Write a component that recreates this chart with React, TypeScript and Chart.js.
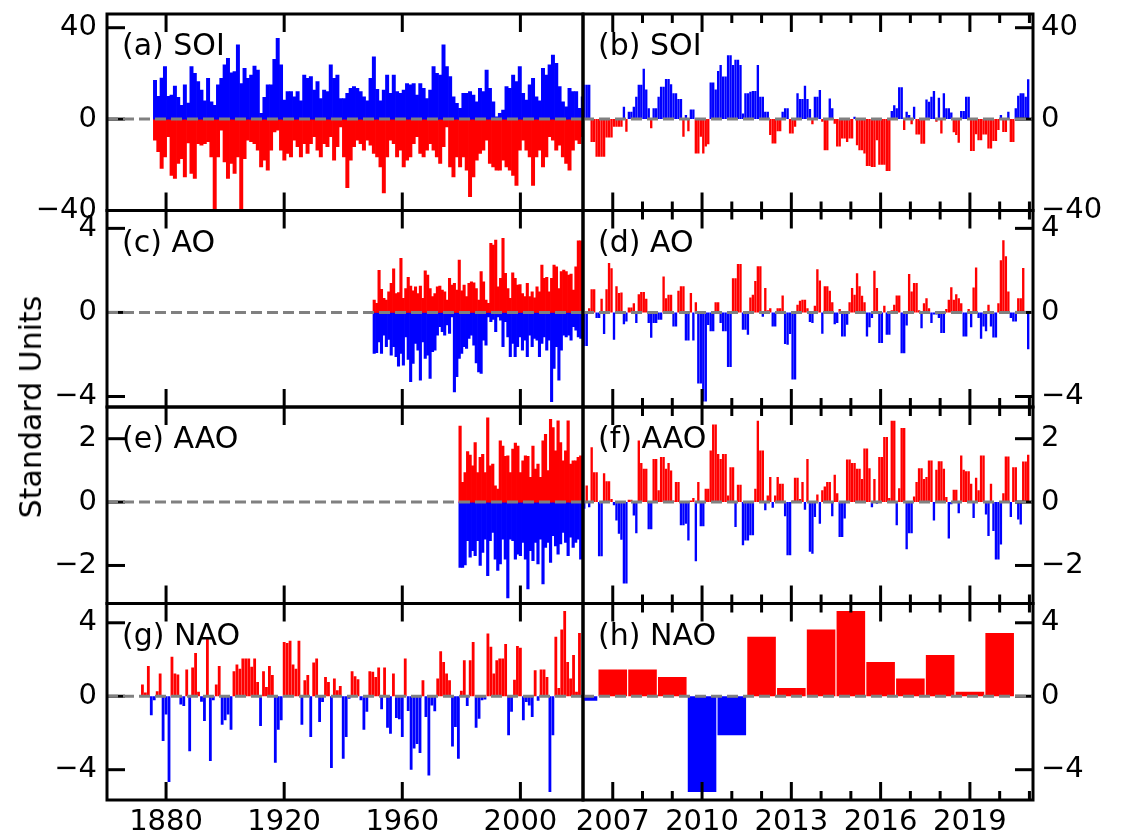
import React, { useEffect, useRef } from "react";
import { Chart, registerables } from "chart.js";

Chart.register(...registerables);

// ---------------- data ----------------
const MONTHLY_START_YEAR = 2006; // Jan 2006 .. Dec 2020

// (b) SOI, monthly
const SOI_MONTHLY = [
  15, 15, 15, -10, -10, -16.5, -16.5, -16.5, -16.5, -8, -8, -8,
  -3.4, -3.4, -3.4, -3.4, 5.4, -5.5, 3.2, 3.2, 5.4, 9.8, 15, 15,
  22, 13, 4.7, -4, 4.7, 4.7, 9.8, 14.2, 14.2, 17.5, 17.5, 15.2,
  11.3, 11.3, 8.8, 8.8, -7.7, 1.8, -5.3, 4.2, 4.2, -15, -15, -7.7,
  -15, -12, -11, 16, 16, 13, 21, 23.7, 18.6, 18.6, 28, 28,
  23.7, 26, 26, 23.7, 2.5, 11.3, 11.3, 12, 12.3, 12.3, 23.7, 9.8,
  9.8, 3.2, 3.2, -7, -10.7, -10.7, -5.3, -5.3, 3.2, 4.7, 4.7, -6.3,
  -6.3, -3.4, 11.3, 8.8, 8.8, 14.6, 8.8, 4.4, -2.3, 9.8, 9.8, 12.7,
  -1.2, -13.6, -13.6, 9.0, 4.7, -2, -12, -12, -8.5, -8.5, -10, -8.5,
  -8.5, 1, -11.4, -13.6, -13.6, -15, -20.5, -20.5, -21, -21, -9.2, -20,
  -20, -20, -22.7, -22.7, 3.5, 6.1, 4.7, 13.9, 13.9, -4.8, 3.2, 1.8,
  -2.3, 5.4, -6.7, -6.7, -10.8, -10.8, 8.6, 7.6, 9.8, 12.3, -1.2, 9.4,
  -6.3, 11.3, 4.7, 4.7, 2.9, -5.8, -7, -10.4, 3.5, 3.5, 9.8, 9.8,
  -14, -14, -6.6, -9.2, -9.2, -6.7, -6.7, -12.9, -12.9, -9.6, -9.6, -4.8,
  1.8, -5.6, -5.6, 3.2, -10, -10, 4.7, 10.2, 11.3, 11.3, 9.8, 17.4,
];

// (d) AO, monthly
const AO_MONTHLY = [
  -1.6, -1.6, 0.2, 1.1, 1.1, -0.27, -0.27, 0.65, -1.03, 1.1, 2.35, 2.1,
  -1.3, 1.24, 0.92, 0.95, -0.56, -0.43, 0.24, 0.24, 0.44, -0.5, 0.87, 0.97,
  0.97, 0.65, -0.5, -1.2, -0.5, -0.5, -0.35, -0.35, 1.71, 0.68, 0.84, 0.84,
  -0.67, -0.67, 1.03, 1.24, 1.24, -1.33, -1.33, 0.92, -1.33, 0.49, -3.38, -3.38,
  -4.24, -4.24, -0.6, -0.9, -0.9, 0.48, 0.48, -0.5, -0.9, -0.9, -2.6, -2.6,
  1.63, 1.63, 2.3, 2.3, -0.83, -0.83, -1.06, 0.71, 0.84, 1.5, 2.2, 2.2,
  -0.2, 1.16, 0.1, 0.2, -0.67, -0.67, 0.2, 0.2, 0.8, -1.5, -1.54, -1.03,
  -3.19, -3.19, 0.37, 0.56, 0.6, 0.6, 0.2, -0.46, -0.5, 0.32, 2.06, 1.52,
  -1.02, 1.24, 1.24, 1.03, 0.49, -0.56, -0.5, 0.16, -1.14, -1.14, -0.59, 0.48,
  1.16, 0.84, 1.87, 1.24, 0.79, 0.48, -1.14, -0.71, -0.27, 1.98, 1.16, -1.46,
  -1.46, 0.32, -1.06, -1.06, 0.1, 0.37, 0.8, 0.8, -1.94, -1.94, -0.62, 1.83,
  1.0, 1.4, 1.4, 0.1, -0.75, 0.44, 0.68, 0.2, -0.5, -0.1, -0.1, -0.27,
  -0.98, -0.98, 0.16, 0.6, 1.2, 0.6, 0.87, 0.68, 0.44, -1.14, -1.14, 0.16,
  -0.71, 1.19, 2.14, -0.27, -1.25, -0.67, -0.9, 0.37, -0.67, -1.19, -1.19, 0.44,
  2.48, 3.43, 2.67, 1.0, -0.27, -0.43, -0.43, 0.68, 0.68, 2.11, -0.08, -1.75,
];

// (f) AAO, monthly
const AAO_MONTHLY = [
  -0.21, 0.52, -0.16, 1.73, 0.94, 0.94, -1.71, -1.71, 0.91, 0.66, 0.66, 0.1,
  -0.1, -0.58, -1.0, -1.19, -2.57, -2.57, 0.07, 0.07, -0.42, -0.98, 1.94, 1.23,
  1.05, 1.05, -0.86, -0.86, 1.36, 1.36, 0.37, 1.42, 1.42, 1.05, 1.23, 1.0,
  0.05, 0.63, 0.63, -0.73, -0.73, -0.68, -1.21, 0.05, 0.13, -1.87, 0.63, -0.76,
  -0.76, 0.42, 0.42, 1.63, 2.45, 2.45, 1.52, 1.36, 1.52, 1.52, 0.21, 1.1,
  1.1, -0.79, 0.55, 0.55, -1.36, -1.21, -1.21, -1.05, -1.05, 0.42, 2.57, 1.63,
  1.63, -0.26, 0.21, 0.79, -0.18, 0.21, 0.79, 0.58, 0.58, -0.45, -1.68, -1.68,
  0.05, 0.77, 0.77, 0.1, 0.63, -0.24, 1.36, -1.57, -1.63, -0.47, 0.24, -0.68,
  0.37, 0.49, 0.63, 0.63, -0.45, 0.86, 0.28, -1.1, -1.1, -0.52, 1.34, 1.34,
  1.23, 1.23, 1.05, 1.05, 0.73, 1.69, 1.69, 1.07, -0.16, 0.73, -0.05, 1.42,
  1.42, 2.05, 2.05, 0.13, 2.57, 2.57, -0.73, 0.44, 2.34, 2.34, -1.49, -0.98,
  -0.98, 0.18, 0.63, 1.07, 1.07, 0.73, 0.79, 1.31, 1.31, -0.58, 1.02, 1.29,
  1.29, 1.05, 0.16, -1.15, -0.07, 0.39, 0.39, -0.35, 1.47, 1.02, 0.97, 0.97,
  0.58, -0.5, 0.77, 0.37, 1.47, 1.47, -0.39, -1.07, 0.58, -0.91, -1.81, -1.81,
  -1.34, 0.28, 1.44, 1.44, -0.47, 1.1, 1.1, -0.55, -0.71, 1.28, 1.28, 1.49,
];

// (g)/(h) NAO, one value per winter, 1872 .. 2020
const NAO_FIRST_YEAR = 1872;
const NAO_ANNUAL = [
  0.64, 0.2, 1.64, -1.04, -0.22, 0.27, 1.24, -2.44, -1.0, -4.67,
  2.15, 1.24, 1.18, -0.45, -0.53, 1.45, -3.0, 1.56, 2.36, 0.24,
  -0.3, -1.35, 3.15, -3.53, -0.22, 0.64, 1.64, -1.55, -1.31, -1.0,
  -1.82, 1.36, 1.73, 1.5, 2.05, 2.05, 2.05, 1.6, 2.05, 0.78,
  -1.62, 1.36, 0.5, 1.64, 1.15, -3.62, -1.82, -1.31, 2.96, 2.9,
  3.02, 1.73, 1.5, 3.02, -1.55, 0.87, 1.15, -2.22, 1.84, 2.05,
  -1.4, -0.31, 1.05, 0.78, -3.91, 0.96, 0.33, 0.56, -3.4, -2.22,
  -0.13, 1.36, 1.09, 0.93, -0.22, -1.82, -0.85, 1.36, 1.33, 1.05,
  1.56, -0.71, 1.56, -1.71, -2.04, 1.24, -1.18, -1.25, -2.22, 2.05,
  -0.8, -4.0, -2.85, -2.6, -3.09, 0.87, -1.13, -4.31, -0.5, -0.82,
  0.96, 2.45, 1.87, 1.24, 0.87, -2.73, -1.67, -3.4, 0.3, 1.96,
  -0.53, 1.96, 2.96, -1.71, -1.22, -0.22, -0.18, 3.42, 2.69, 1.24,
  1.96, 2.05, 2.05, 2.84, -2.13, -0.85, 0.9, 2.73, 2.64, -1.31,
  -0.31, -0.5, -1.13, 1.42, -0.25, 1.45, 1.45, 1.05, -5.22, -2.13,
  3.24, 0.45, 3.64, 4.64, 1.87, 0.96, 2.24, 0.24, 3.45,
];

// (a) SOI, long record: strongest positive / negative month in each time bin
const SOI_LONG_START = 1875.7;
const SOI_LONG_BIN = 1.123;
const SOI_LONG_POS = [
  17, 10, 18, 23, 10, 10.5, 14.5, 9.5, 6, 15,
  7, 23, 20, 16.4, 12.7, 8, 17.8, 7.6, 6, 15,
  17.8, 23.7, 26.6, 20.3, 20.8, 32.5, 15.6, 22.2, 17.8, 19.3,
  23.2, 21.5, 2.5, 9.5, 15, 15, 26.2, 35.4, 23.7, 8.3,
  12, 12, 9.8, 12, 8, 19.3, 17.8, 18.6, 12.7, 16.4,
  9, 12.7, 12, 23.7, 17.8, 19.3, 9, 9, 11.3, 13.5,
  14.2, 13.5, 12, 9.8, 8, 17.8, 27.3, 13, 8, 12.7,
  19.3, 11.3, 19.3, 12, 11.3, 12.7, 15.6, 15, 15.6, 10.5,
  15.6, 13.5, 9, 12.7, 23, 20, 19.3, 32.5, 23, 18.6,
  9.8, 6.9, 4.7, 11.3, 11.3, 12, 10.5, 7.6, 13.5, 12,
  21.5, 13.5, 7.6, 1, 2.5, 4, 14.2, 13.5, 19.3, 16.4,
  23, 11.3, 8.3, 15, 17.8, 9.8, 8, 22.2, 19.3, 23.7,
  28, 24.4, 14.2, 7.6, 5.4, 13.5, 12, 12, 4.7, 9.8,
];
const SOI_LONG_NEG = [
  -9.2, -14.3, -21.6, -16.5, -7.7, -24.6, -26, -19.4, -17.3, -25.3,
  -10.4, -23.8, -26, -10.7, -11.4, -10.7, -9.9, -16.5, -40, -16.5,
  -4.8, -18.7, -26, -19.4, -23.8, -16.5, -40, -17.3, -9.2, -9.9,
  -10.7, -13.6, -20.9, -18, -22.4, -13.6, -5.6, -4.8, -13.6, -18,
  -15, -16.5, -9.2, -12.1, -16.5, -10.7, -15, -10.7, -7.7, -13.6,
  -16.5, -10.7, -12.1, -7.7, -18, -12.1, -3.4, -16.5, -30, -18,
  -12.1, -9.2, -10.7, -13.6, -9.2, -11.4, -15, -16.5, -20.9, -32.3,
  -16.5, -9.2, -10.7, -16.5, -13.6, -20.9, -18, -16.5, -10.7, -7.7,
  -15, -16.5, -13.6, -10.7, -13.6, -16.5, -19.4, -12.1, -3.4, -20.9,
  -25.3, -16.5, -20.9, -16.5, -22.4, -34, -25.3, -18, -15, -13.6,
  -9.2, -19.4, -20.9, -22.4, -22.4, -18, -20.9, -22.4, -24.6, -29,
  -13.6, -9.2, -13.6, -16.5, -29, -16.5, -13.6, -20.9, -16.5, -7.7,
  -9.2, -13.6, -11.4, -16.5, -19.4, -22.4, -13.6, -9.2, -10.7, -7.7,
];

// (c) AO, long record (bins)
const AO_LONG_START = 1950.08;
const AO_LONG_BIN = 0.823;
const AO_LONG_POS = [
  0.59, 0.43, 2.0, 1.1, 0.67, 0.59, 0.98, 1.38, 2.08, 0.9,
  0.94, 2.57, 0.67, 1.14, 1.67, 1.25, 1.03, 1.22, 0.9, 1.25,
  0.67, 1.98, 1.78, 1.14, 0.75, 0.9, 1.22, 1.25, 1.06, 0.98,
  0.59, 1.62, 1.3, 1.38, 1.06, 2.49, 1.03, 1.3, 0.75, 1.38,
  1.46, 1.41, 1.14, 0.59, 1.94, 1.46, 0.59, 0.43, 3.29, 3.21,
  3.44, 1.22, 1.62, 3.52, 1.86, 1.14, 0.67, 1.89, 1.62, 1.3,
  1.33, 0.9, 0.75, 1.38, 0.75, 0.98, 0.7, 1.22, 0.98, 2.25,
  1.62, 1.67, 0.98, 1.62, 2.25, 2.17, 1.14, 1.94, 2.02, 1.94,
  1.78, 1.83, 1.06, 2.17, 3.41, 3.41,
];
const AO_LONG_NEG = [
  -1.95, -1.92, -1.4, -1.95, -1.08, -1.63, -1.29, -2.03, -1.63, -2.11,
  -2.56, -1.95, -2.51, -1.16, -2.24, -3.3, -2.43, -1.48, -1.79, -3.22,
  -1.4, -2.19, -2.03, -3.14, -1.87, -1.79, -1.08, -0.68, -0.92, -1.08,
  -0.6, -1.0, -0.21, -3.78, -3.06, -2.19, -1.95, -1.63, -1.71, -1.24,
  -1.08, -1.56, -2.4, -2.83, -2.9, -1.32, -1.56, -0.21, -0.44, -0.33,
  -0.92, -0.21, -0.37, -1.63, -0.44, -1.16, -2.11, -1.48, -2.11, -1.63,
  -1.16, -1.79, -1.32, -2.11, -1.08, -1.63, -1.24, -1.32, -2.11, -1.48,
  -1.16, -1.79, -1.32, -4.25, -2.67, -1.63, -3.22, -1.79, -1.08, -1.16,
  -1.08, -1.32, -0.68, -0.84, -1.16, -1.24,
];

// (e) AAO, long record (bins)
const AAO_LONG_START = 1979.15;
const AAO_LONG_BIN = 0.851;
const AAO_LONG_POS = [
  2.4, 0.62, 0.93, 1.59, 1.48, 1.14, 1.88, 0.93, 1.41, 1.51,
  0.93, 2.66, 1.14, 1.2, 0.51, 0.41, 1.93, 1.77, 1.44, 1.46,
  0.93, 1.67, 1.86, 1.77, 0.93, 1.3, 1.46, 1.44, 0.78, 1.77,
  1.04, 1.2, 0.78, 1.93, 2.14, 0.99, 2.61, 2.35, 1.62, 2.56,
  1.88, 1.3, 1.62, 2.56, 1.2, 1.3, 1.3, 1.41, 1.46,
];
const AAO_LONG_NEG = [
  -2.06, -2.06, -1.98, -1.22, -1.74, -1.53, -1.69, -1.22, -2.0, -1.59,
  -1.17, -2.32, -1.22, -0.96, -1.8, -2.16, -1.95, -1.17, -1.8, -3.02,
  -1.17, -1.22, -1.8, -1.64, -1.69, -1.27, -1.8, -2.74, -1.53, -1.85,
  -1.27, -1.95, -1.17, -2.58, -1.43, -1.27, -1.9, -1.06, -1.38, -1.64,
  -1.32, -0.96, -1.27, -1.69, -1.11, -1.43, -1.27, -1.17, -1.8,
];

// axes
const LEFT_X_RANGE = [1860, 2021.2];
const RIGHT_X_RANGE = [2006, 2021.12];
const LEFT_X_TICKS = [1880, 1920, 1960, 2000];
const RIGHT_X_TICKS = [2007, 2010, 2013, 2016, 2019];
const RIGHT_X_MINOR = [2008, 2009, 2011, 2012, 2014, 2015, 2017, 2018, 2020, 2021];
const SOI_Y = { min: -40, max: 46, ticks: [-40, 0, 40] };
const AO_Y = { min: -4.5, max: 4.85, ticks: [-4, 0, 4] };
const AAO_Y = { min: -3.2, max: 3.0, ticks: [-2, 0, 2] };
const NAO_Y = { min: -5.65, max: 5.05, ticks: [-4, 0, 4] };

// ---------------- styling / layout ----------------
const FONT_FAMILY = '"DejaVu Sans", "Liberation Sans", sans-serif';
const TICK_FONT_SIZE = 29;
const TEXT_FONT_SIZE = 30;
const RED = "#ff0000";
const BLUE = "#0000ff";
const ZERO_GREY = "#808080";
const COL_X = [107, 583, 1033];
const ROW_Y = [14, 210.5, 407, 603.5, 800];
const W = 1129;
const H = 836;

// ---------------- dataset builders ----------------
function binCenters(start: number, step: number, n: number) {
  const out: number[] = [];
  for (let i = 0; i < n; i++) out.push(start + (i + 0.5) * step);
  return out;
}

function signedBars(xs: number[], ys: number[], posColor: string, negColor: string, barPct: number) {
  return [
    {
      data: xs.map((x, i) => ({ x, y: ys[i] })),
      backgroundColor: ys.map((v) => (v >= 0 ? posColor : negColor)),
      borderWidth: 0,
      barPercentage: barPct,
      categoryPercentage: 1,
      grouped: false,
      clip: 0,
    },
  ];
}

function envelopeBars(xs: number[], pos: number[], neg: number[], posColor: string, negColor: string) {
  const common = { borderWidth: 0, barPercentage: 1, categoryPercentage: 1, grouped: false, clip: 0 };
  return [
    { ...common, data: xs.map((x, i) => ({ x, y: pos[i] })), backgroundColor: posColor },
    { ...common, data: xs.map((x, i) => ({ x, y: neg[i] })), backgroundColor: negColor },
  ];
}

const MONTH_X = SOI_MONTHLY.map((_, i) => MONTHLY_START_YEAR + (i + 0.5) / 12);
const NAO_YEARS = NAO_ANNUAL.map((_, i) => NAO_FIRST_YEAR + i);
const NAO_RECENT_IDX = NAO_YEARS.map((y, i) => (y >= 2006 ? i : -1)).filter((i) => i >= 0);

const PANELS = [
  {
    id: "a", col: 0, row: 0, label: "(a) SOI", y: SOI_Y,
    datasets: envelopeBars(binCenters(SOI_LONG_START, SOI_LONG_BIN, SOI_LONG_POS.length), SOI_LONG_POS, SOI_LONG_NEG, BLUE, RED),
  },
  {
    id: "b", col: 1, row: 0, label: "(b) SOI", y: SOI_Y,
    datasets: signedBars(MONTH_X, SOI_MONTHLY, BLUE, RED, 0.95),
  },
  {
    id: "c", col: 0, row: 1, label: "(c) AO", y: AO_Y,
    datasets: envelopeBars(binCenters(AO_LONG_START, AO_LONG_BIN, AO_LONG_POS.length), AO_LONG_POS, AO_LONG_NEG, RED, BLUE),
  },
  {
    id: "d", col: 1, row: 1, label: "(d) AO", y: AO_Y,
    datasets: signedBars(MONTH_X, AO_MONTHLY, RED, BLUE, 0.95),
  },
  {
    id: "e", col: 0, row: 2, label: "(e) AAO", y: AAO_Y,
    datasets: envelopeBars(binCenters(AAO_LONG_START, AAO_LONG_BIN, AAO_LONG_POS.length), AAO_LONG_POS, AAO_LONG_NEG, RED, BLUE),
  },
  {
    id: "f", col: 1, row: 2, label: "(f) AAO", y: AAO_Y,
    datasets: signedBars(MONTH_X, AAO_MONTHLY, RED, BLUE, 0.95),
  },
  {
    id: "g", col: 0, row: 3, label: "(g) NAO", y: NAO_Y,
    datasets: signedBars(NAO_YEARS, NAO_ANNUAL, RED, BLUE, 0.95),
  },
  {
    id: "h", col: 1, row: 3, label: "(h) NAO", y: NAO_Y,
    datasets: signedBars(
      NAO_RECENT_IDX.map((i) => NAO_YEARS[i]),
      NAO_RECENT_IDX.map((i) => NAO_ANNUAL[i]),
      RED, BLUE, 0.96
    ),
  },
];

function geometry(col: number, row: number) {
  const left = COL_X[col];
  const right = COL_X[col + 1];
  const top = ROW_Y[row];
  const bottom = ROW_Y[row + 1];
  const cLeft = col === 0 ? 0 : left - 70;
  const cRight = col === 0 ? right + 70 : W;
  const cTop = Math.floor(top - 24);
  const cBottom = row === 3 ? H : Math.ceil(bottom + 24);
  return {
    cLeft, cTop,
    cw: cRight - cLeft,
    ch: cBottom - cTop,
    gap: { left: left - cLeft, right: cRight - right, top: top - cTop, bottom: cBottom - bottom },
  };
}

const fmtY = (v: number) => (v < 0 ? "\u2212" + Math.abs(v) : String(v));

function makeFramePlugin(yTicks: number[], ySide: string, xMajor: number[], xMinor: number[]) {
  return {
    id: "frame",
    afterDraw(chart: any) {
      const { ctx, chartArea: a, scales } = chart;
      const xs = scales.x;
      const ys = scales.y;
      const line = (x1: number, y1: number, x2: number, y2: number) => {
        ctx.beginPath();
        ctx.moveTo(x1, y1);
        ctx.lineTo(x2, y2);
        ctx.stroke();
      };
      ctx.save();
      ctx.strokeStyle = "#000";
      ctx.lineWidth = 3;
      ctx.lineCap = "butt";
      for (const v of yTicks) {
        const py = ys.getPixelForValue(v);
        if (ySide === "left") line(a.left, py, a.left + 18, py);
        else line(a.right, py, a.right - 18, py);
      }
      for (const v of xMajor) {
        const px = xs.getPixelForValue(v);
        line(px, a.top, px, a.top + 18);
        line(px, a.bottom, px, a.bottom - 18);
      }
      for (const v of xMinor) {
        const px = xs.getPixelForValue(v);
        line(px, a.top, px, a.top + 9);
        line(px, a.bottom, px, a.bottom - 9);
      }
      const z = ys.getPixelForValue(0);
      ctx.strokeStyle = ZERO_GREY;
      ctx.setLineDash([11, 5]);
      line(a.left, z, a.right, z);
      ctx.setLineDash([]);
      ctx.strokeStyle = "#000";
      ctx.lineWidth = 3;
      ctx.strokeRect(a.left, a.top, a.right - a.left, a.bottom - a.top);
      ctx.restore();
    },
  };
}

function Panel({ spec }: { spec: any }) {
  const ref = useRef<HTMLCanvasElement | null>(null);
  const g = geometry(spec.col, spec.row);

  useEffect(() => {
    if (!ref.current) return;
    const isLeft = spec.col === 0;
    const xr = isLeft ? LEFT_X_RANGE : RIGHT_X_RANGE;
    const xMajor = isLeft ? LEFT_X_TICKS : RIGHT_X_TICKS;
    const xMinor = isLeft ? [] : RIGHT_X_MINOR;
    const ySide = isLeft ? "left" : "right";
    const showX = spec.row === 3;
    const tickFont = { family: FONT_FAMILY, size: TICK_FONT_SIZE };
    const zeroPad = (s: any) => {
      s.paddingLeft = 0;
      s.paddingRight = 0;
      s.paddingTop = 0;
      s.paddingBottom = 0;
    };
    // the y axis box takes the whole gap on its side; the x axis box takes the
    // bottom gap when it shows labels, so the plot area lands exactly on the frame.
    const padding = {
      left: isLeft ? 0 : g.gap.left,
      right: isLeft ? g.gap.right : 0,
      top: g.gap.top,
      bottom: showX ? 0 : g.gap.bottom,
    };
    const yAxisWidth = isLeft ? g.gap.left : g.gap.right;
    const xAxisHeight = showX ? g.gap.bottom : 0;

    const chart = new Chart(ref.current, {
      type: "bar",
      data: { datasets: spec.datasets },
      options: {
        animation: false,
        responsive: false,
        maintainAspectRatio: false,
        devicePixelRatio: 1,
        events: [],
        layout: { padding },
        plugins: { legend: { display: false }, tooltip: { enabled: false }, title: { display: false } },
        scales: {
          x: {
            type: "linear",
            position: "bottom",
            min: xr[0],
            max: xr[1],
            bounds: "data",
            offset: false,
            grid: { display: false, drawTicks: false, offset: false },
            border: { display: false },
            ticks: {
              display: showX,
              autoSkip: false,
              maxRotation: 0,
              minRotation: 0,
              padding: 5,
              font: tickFont,
              color: "#000",
              callback: (v: any) => String(v),
            },
            afterBuildTicks: (s: any) => {
              s.ticks = xMajor.map((v) => ({ value: v }));
            },
            afterFit: (s: any) => {
              s.height = xAxisHeight;
              zeroPad(s);
            },
          },
          y: {
            type: "linear",
            position: ySide,
            min: spec.y.min,
            max: spec.y.max,
            bounds: "data",
            grid: { display: false, drawTicks: false },
            border: { display: false },
            ticks: {
              padding: isLeft ? 10 : 8,
              font: tickFont,
              color: "#000",
              callback: (v: any) => fmtY(v),
            },
            afterBuildTicks: (s: any) => {
              s.ticks = spec.y.ticks.map((v: number) => ({ value: v }));
            },
            afterFit: (s: any) => {
              s.width = yAxisWidth;
              zeroPad(s);
            },
          },
        },
      } as any,
      plugins: [makeFramePlugin(spec.y.ticks, ySide, xMajor, xMinor)],
    } as any);
    return () => chart.destroy();
  }, []);

  return (
    <canvas
      ref={ref}
      width={g.cw}
      height={g.ch}
      style={{ position: "absolute", left: g.cLeft, top: g.cTop, width: g.cw, height: g.ch }}
    />
  );
}

export default function App() {
  return (
    <div
      style={{
        position: "fixed",
        left: 0,
        top: 0,
        width: W,
        height: H,
        background: "#fff",
        overflow: "hidden",
      }}
    >
      {PANELS.map((p) => (
        <Panel key={p.id} spec={p} />
      ))}
      {PANELS.map((p) => (
        <div
          key={"lbl" + p.id}
          style={{
            position: "absolute",
            left: COL_X[p.col] + 15,
            top: ROW_Y[p.row] + 16,
            fontFamily: FONT_FAMILY,
            fontSize: TEXT_FONT_SIZE,
            lineHeight: TEXT_FONT_SIZE + "px",
            color: "#000",
            whiteSpace: "nowrap",
          }}
        >
          {p.label}
        </div>
      ))}
      <div
        style={{
          position: "absolute",
          left: 31,
          top: (ROW_Y[0] + ROW_Y[4]) / 2,
          transform: "translate(-50%, -50%) rotate(-90deg)",
          fontFamily: FONT_FAMILY,
          fontSize: TEXT_FONT_SIZE,
          lineHeight: TEXT_FONT_SIZE + "px",
          color: "#000",
          whiteSpace: "nowrap",
        }}
      >
        Standard Units
      </div>
    </div>
  );
}
